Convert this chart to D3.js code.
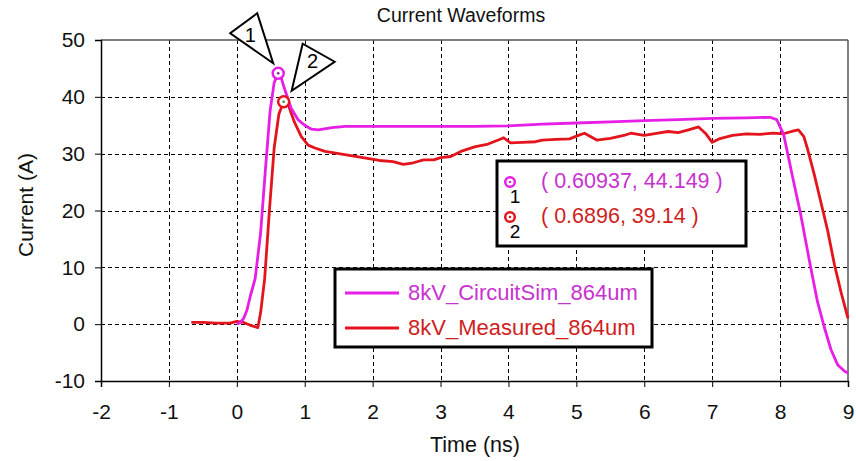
<!DOCTYPE html>
<html>
<head>
<meta charset="utf-8">
<script src="https://cdn.jsdelivr.net/npm/d3@7"></script>
<style>
  html, body { margin: 0; padding: 0; background: #fff; }
  svg { display: block; }
  text { font-family: "Liberation Sans", Arial, sans-serif; }
</style>
</head>
<body>
<svg id="chart" width="856" height="461"></svg>
<script>
// ---- Data ----
const chartTitle = "Current Waveforms";
const xLabel = "Time (ns)";
const yLabel = "Current (A)";
const xTicks = [-2, -1, 0, 1, 2, 3, 4, 5, 6, 7, 8, 9];
const yTicks = [-10, 0, 10, 20, 30, 40, 50];
const seriesNames = ["8kV_CircuitSim_864um", "8kV_Measured_864um"];

const simTime = [0, 0.05, 0.1, 0.15, 0.2, 0.27, 0.35, 0.42, 0.49, 0.55, 0.60937, 0.65, 0.7, 0.8, 0.9, 1.0, 1.1, 1.2, 1.4, 1.6, 2.0, 2.5, 3.0, 3.5, 4.0, 4.5, 5.0, 5.5, 6.0, 6.5, 7.0, 7.5, 7.85, 7.95, 8.05, 8.2, 8.3, 8.45, 8.55, 8.65, 8.75, 8.85, 8.95, 9.0];
const simCurrent = [0, 0.3, 1, 2.5, 5, 8, 16, 27, 37.5, 42.5, 44.149, 43.5, 41.5, 38, 36, 35, 34.3, 34.2, 34.6, 34.8, 34.8, 34.8, 34.8, 34.8, 34.9, 35.2, 35.4, 35.6, 35.8, 36.0, 36.2, 36.3, 36.4, 36.0, 33.5, 25, 19.5, 10, 4, -0.5, -4.5, -7.2, -8.3, -8.6];

const measTime = [-0.67, -0.5, -0.3, -0.1, 0, 0.1, 0.2, 0.31, 0.35, 0.41, 0.48, 0.55, 0.62, 0.6896, 0.76, 0.85, 0.95, 1.05, 1.15, 1.3, 1.5, 1.7, 1.9, 2.1, 2.3, 2.45, 2.6, 2.75, 2.9, 3.0, 3.15, 3.3, 3.5, 3.7, 3.85, 3.93, 4.03, 4.2, 4.4, 4.5, 4.7, 4.9, 5.05, 5.12, 5.3, 5.5, 5.7, 5.8, 6.0, 6.2, 6.35, 6.5, 6.65, 6.8, 6.9, 7.0, 7.1, 7.3, 7.5, 7.7, 7.9, 8.05, 8.2, 8.27, 8.35, 8.4, 8.5, 8.6, 8.7, 8.8, 8.9, 9.0];
const measCurrent = [0.3, 0.3, 0.2, 0.2, 0.5, 0.3, -0.2, -0.6, 2, 8, 20, 31, 37, 39.14, 38.5, 35.5, 33, 31.5, 31, 30.4, 30.0, 29.6, 29.2, 28.8, 28.6, 28.1, 28.4, 28.9, 28.9, 29.3, 29.5, 30.4, 31.2, 31.7, 32.4, 32.8, 31.9, 32.0, 32.1, 32.4, 32.5, 32.6, 33.3, 33.6, 32.4, 32.7, 33.2, 33.6, 33.2, 33.6, 33.9, 33.7, 34.2, 34.7, 33.6, 32.0, 32.6, 33.2, 33.5, 33.4, 33.6, 33.5, 34.0, 34.2, 33.0, 31, 26.5, 21.5, 16.5, 10.5, 5.5, 1.0];

const markerIds = ["1", "2"];
const markerTime = [0.60937, 0.6896];
const markerCurrent = [44.149, 39.14];
const markerLabels = ["( 0.60937, 44.149 )", "( 0.6896, 39.14 )"];

// ---- Styles ----
const lineColors = ["#e61ee6", "#e3141c"];
const textColors = ["#c732d0", "#cf1e22"];

const svg = d3.select("#chart");
const x = d3.scaleLinear().domain([-2, 9]).range([101, 848]);
const y = d3.scaleLinear().domain([-10, 50]).range([381, 40]);

// grid
const grid = svg.append("g").attr("stroke", "#000").attr("stroke-width", 1).attr("stroke-dasharray", "4,3");
grid.selectAll("line.v").data(xTicks.filter(d => d > -2 && d < 9)).join("line")
  .attr("x1", d => Math.round(x(d)) + 0.5).attr("x2", d => Math.round(x(d)) + 0.5)
  .attr("y1", y(50)).attr("y2", y(-10));
grid.selectAll("line.h").data(yTicks.filter(d => d > -10 && d < 50)).join("line")
  .attr("x1", x(-2)).attr("x2", x(9))
  .attr("y1", d => Math.round(y(d)) + 0.5).attr("y2", d => Math.round(y(d)) + 0.5);

// frame top/right
svg.append("line").attr("x1", x(-2)).attr("x2", x(9)).attr("y1", y(50)).attr("y2", y(50))
  .attr("stroke", "#555").attr("stroke-width", 1.5);
svg.append("line").attr("x1", x(9)).attr("x2", x(9)).attr("y1", y(50)).attr("y2", y(-10))
  .attr("stroke", "#555").attr("stroke-width", 1.5);

// axes
const fmt = d => String(d);
const xAxis = d3.axisBottom(x).tickValues(xTicks).tickSize(6).tickPadding(17).tickFormat(fmt);
const yAxis = d3.axisLeft(y).tickValues(yTicks).tickSize(6).tickPadding(10).tickFormat(fmt);
const gx = svg.append("g").attr("transform", `translate(0,${y(-10)})`).call(xAxis);
const gy = svg.append("g").attr("transform", `translate(${x(-2)},0)`).call(yAxis);
[gx, gy].forEach(g => {
  g.select(".domain").attr("stroke", "#000").attr("stroke-width", 1.5);
  g.selectAll(".tick line").attr("stroke", "#000").attr("stroke-width", 1);
  g.selectAll(".tick text").attr("fill", "#111").style("font-size", "21px")
    .style("font-family", "'Liberation Sans', Arial, sans-serif");
});

// title & labels
svg.append("text").attr("x", 461).attr("y", 22).attr("text-anchor", "middle")
  .style("font-size", "19.5px").attr("fill", "#111").text(chartTitle);
svg.append("text").attr("x", 475).attr("y", 452).attr("text-anchor", "middle")
  .style("font-size", "21.5px").attr("fill", "#111").text(xLabel);
svg.append("text").attr("transform", "translate(33,205) rotate(-90)").attr("text-anchor", "middle")
  .style("font-size", "21px").attr("fill", "#111").text(yLabel);

// lines
const line = d3.line().x(d => x(d[0])).y(d => y(d[1]));
const measData = measTime.map((t, i) => [t, measCurrent[i]]);
const simData = simTime.map((t, i) => [t, simCurrent[i]]);
svg.append("path").datum(measData).attr("d", line).attr("fill", "none")
  .attr("stroke", lineColors[1]).attr("stroke-width", 2.8).attr("stroke-linejoin", "round");
svg.append("path").datum(simData).attr("d", line).attr("fill", "none")
  .attr("stroke", lineColors[0]).attr("stroke-width", 2.8).attr("stroke-linejoin", "round");

// markers on curves
markerTime.forEach((t, i) => {
  const cx = x(t), cy = y(markerCurrent[i]);
  svg.append("circle").attr("cx", cx).attr("cy", cy).attr("r", 5.5)
    .attr("fill", "#fff").attr("stroke", lineColors[i]).attr("stroke-width", 2.5);
  svg.append("circle").attr("cx", cx).attr("cy", cy).attr("r", 1.3).attr("fill", i === 0 ? "#7a2a9a" : "#2a9a2a");
});

// marker triangles (offsets relative to marker position)
const triShapes = [
  [[-5, -10], [-48, -40], [-21, -60]],
  [[8, -11], [19, -58], [51, -40]]
];
const triLabelOff = [[-28, -38], [29, -41]];
markerTime.forEach((t, i) => {
  const cx = x(t), cy = y(markerCurrent[i]);
  const pts = triShapes[i].map(p => [cx + p[0], cy + p[1]]);
  svg.append("polygon").attr("points", pts.map(p => p.join(",")).join(" "))
    .attr("fill", "#fff").attr("stroke", "#000").attr("stroke-width", 2).attr("stroke-linejoin", "miter");
  svg.append("text").attr("x", cx + triLabelOff[i][0]).attr("y", cy + triLabelOff[i][1] + 7)
    .attr("text-anchor", "middle").style("font-size", "20px").attr("fill", "#000").text(markerIds[i]);
});

// marker readout box
svg.append("rect").attr("x", 497).attr("y", 161).attr("width", 249).attr("height", 85)
  .attr("fill", "#fff").attr("stroke", "#000").attr("stroke-width", 3);
markerLabels.forEach((lab, i) => {
  const cy = 182 + i * 35;
  svg.append("circle").attr("cx", 510).attr("cy", cy).attr("r", 4.8)
    .attr("fill", "#fff").attr("stroke", lineColors[i]).attr("stroke-width", 2.5);
  svg.append("circle").attr("cx", 510).attr("cy", cy).attr("r", 1.2).attr("fill", lineColors[i]);
  svg.append("text").attr("x", 515).attr("y", cy + 21).attr("text-anchor", "middle")
    .style("font-size", "19px").attr("fill", "#000").text(markerIds[i]);
  svg.append("text").attr("x", 541).attr("y", cy + 6).style("font-size", "21.5px")
    .attr("fill", textColors[i]).text(lab);
});

// legend
svg.append("rect").attr("x", 335).attr("y", 269).attr("width", 317).attr("height", 78)
  .attr("fill", "#fff").attr("stroke", "#000").attr("stroke-width", 3);
seriesNames.forEach((name, i) => {
  const ly = 293 + i * 35;
  svg.append("line").attr("x1", 345).attr("x2", 399).attr("y1", ly).attr("y2", ly)
    .attr("stroke", lineColors[i]).attr("stroke-width", 3);
  svg.append("text").attr("x", 408).attr("y", ly + 7).style("font-size", "22px")
    .attr("fill", textColors[i]).text(name);
});
</script>
</body>
</html>
